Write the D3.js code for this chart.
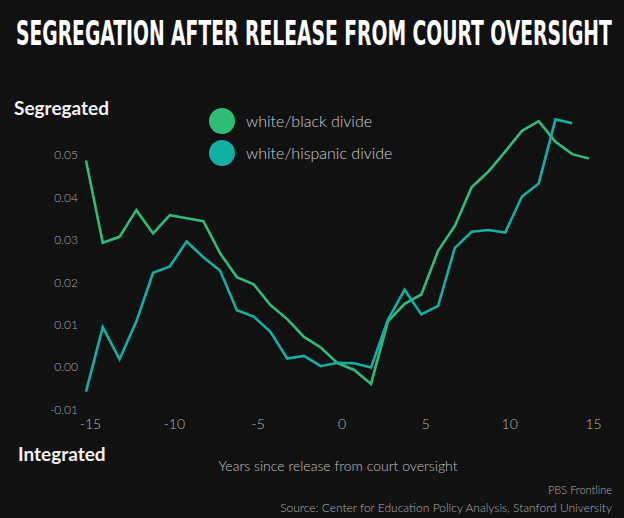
<!DOCTYPE html>
<html>
<head>
<meta charset="utf-8">
<script src="https://cdn.jsdelivr.net/npm/d3@7"></script>
<style>
  body { margin: 0; background: #111111; }
  svg { display: block; }
  .tick text { font-family: Lato, "Noto Sans", sans-serif; font-weight: 300; }
</style>
</head>
<body>
<div id="chart"></div>
<script>
var years = d3.range(-15, 16);
var blackDivide = [0.0487, 0.0293, 0.0307, 0.0370, 0.0315, 0.0358, 0.0351, 0.0344, 0.0268, 0.0212,
  0.0195, 0.0146, 0.0113, 0.0071, 0.0046, 0.0009, -0.0007, -0.0040, 0.0107, 0.0149,
  0.0171, 0.0274, 0.0333, 0.0424, 0.0461, 0.0508, 0.0557, 0.0580, 0.0531, 0.0502, 0.0492];
var hispanicDivide = [-0.0058, 0.0094, 0.0018, 0.0107, 0.0222, 0.0237, 0.0296, 0.0259, 0.0227, 0.0134,
  0.0119, 0.0083, 0.0020, 0.0026, 0.0002, 0.0010, 0.0009, -0.0001, 0.0111, 0.0182,
  0.0124, 0.0144, 0.0281, 0.0319, 0.0323, 0.0317, 0.0402, 0.0433, 0.0584, 0.0575];
var seriesNames = ['white/black divide', 'white/hispanic divide'];
var seriesColors = ['#2dbd77', '#12b0a2'];
var xTicks = [-15, -10, -5, 0, 5, 10, 15];
var yTicks = [-0.01, 0, 0.01, 0.02, 0.03, 0.04, 0.05];

var width = 624, height = 518;

var svg = d3.select('#chart').append('svg')
  .attr('width', width)
  .attr('height', height);

svg.append('rect')
  .attr('width', width)
  .attr('height', height)
  .attr('fill', '#111111');

var x = d3.scaleLinear().domain([-15, 15]).range([86, 589]);
var y = d3.scaleLinear().domain([-0.01, 0.06]).range([409.4, 112.6]);

// title, squeezed to the reference width
var title = svg.append('text')
  .attr('x', 0)
  .attr('y', 0)
  .style('font-family', '"Liberation Sans Narrow", "DejaVu Sans Condensed", sans-serif')
  .style('font-weight', 'bold')
  .style('font-size', '34px')
  .attr('fill', '#ffffff')
  .text('SEGREGATION AFTER RELEASE FROM COURT OVERSIGHT');
var tw = title.node().getComputedTextLength();
title.attr('transform', 'translate(16,45) scale(' + (596 / tw) + ',1)');

// y axis
var yAxis = svg.append('g')
  .attr('transform', 'translate(80,0)')
  .call(d3.axisLeft(y).tickValues(yTicks).tickSize(0).tickPadding(2)
    .tickFormat(function(d){ return d3.format('.2f')(d).replace('\u2212', '-'); }));
yAxis.select('.domain').remove();
yAxis.selectAll('text')
  .attr('fill', '#a8a8a8')
  .style('font-size', '12px');

// x axis
var xAxis = svg.append('g')
  .attr('transform', 'translate(4,419)')
  .call(d3.axisBottom(x).tickValues(xTicks).tickSize(0).tickPadding(0)
    .tickFormat(function(d){ return String(d); }));
xAxis.select('.domain').remove();
xAxis.selectAll('text')
  .attr('fill', '#b8b8b8')
  .style('font-size', '14px');

var line = d3.line()
  .x(function(d, i){ return x(years[i]); })
  .y(function(d){ return y(d); });

[blackDivide, hispanicDivide].forEach(function(s, i){
  svg.append('path')
    .attr('d', line(s))
    .attr('fill', 'none')
    .attr('stroke', seriesColors[i])
    .attr('stroke-width', 2.6)
    .attr('stroke-linejoin', 'miter');
});

// legend
seriesNames.forEach(function(name, i){
  svg.append('circle')
    .attr('cx', 222)
    .attr('cy', 121 + i * 32)
    .attr('r', 13)
    .attr('fill', seriesColors[i]);
  svg.append('text')
    .attr('x', 246)
    .attr('y', 127 + i * 32)
    .style('font-family', 'Lato, "Noto Sans", sans-serif')
    .style('font-weight', 300)
    .style('font-size', '16px')
    .attr('fill', '#cfcfcf')
    .text(name);
});

// segregated / integrated labels
svg.append('text')
  .attr('x', 14)
  .attr('y', 115)
  .style('font-family', 'Lato, "Noto Sans", sans-serif')
  .style('font-weight', 'bold')
  .style('font-size', '19px')
  .attr('fill', '#f2f2f2')
  .text('Segregated');
svg.append('text')
  .attr('x', 18)
  .attr('y', 461)
  .style('font-family', 'Lato, "Noto Sans", sans-serif')
  .style('font-weight', 'bold')
  .style('font-size', '19px')
  .attr('fill', '#f2f2f2')
  .text('Integrated');

// x axis label
svg.append('text')
  .attr('x', 338)
  .attr('y', 471)
  .style('text-anchor', 'middle')
  .style('font-family', 'Lato, "Noto Sans", sans-serif')
  .style('font-weight', 300)
  .style('font-size', '14px')
  .attr('fill', '#c0c0c0')
  .text('Years since release from court oversight');

// credits
svg.append('text')
  .attr('x', 612)
  .attr('y', 494)
  .style('text-anchor', 'end')
  .style('font-family', 'Lato, "Noto Sans", sans-serif')
  .style('font-weight', 300)
  .style('font-size', '11px')
  .attr('fill', '#b0b0b0')
  .text('PBS Frontline');
svg.append('text')
  .attr('x', 612)
  .attr('y', 512)
  .style('text-anchor', 'end')
  .style('font-family', 'Lato, "Noto Sans", sans-serif')
  .style('font-weight', 300)
  .style('font-size', '12px')
  .attr('fill', '#b0b0b0')
  .text('Source: Center for Education Policy Analysis, Stanford University');
</script>
</body>
</html>
